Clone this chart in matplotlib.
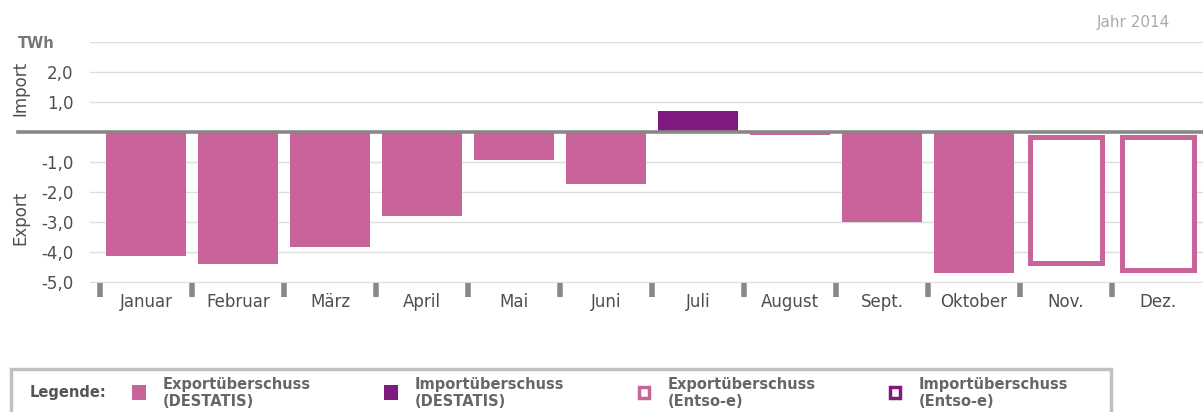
import numpy as np
import matplotlib.pyplot as plt
from matplotlib.patches import Rectangle

plt.rcParams['font.family'] = ['DejaVu Sans']

# Monthly net electricity trade 2014 (TWh), negative = export surplus
months = ["Januar", "Februar", "März", "April", "Mai", "Juni", "Juli",
          "August", "Sept.", "Oktober", "Nov.", "Dez."]
destatis = [-4.13, -4.40, -3.83, -2.80, -0.93, -1.73, 0.69,
            -0.10, -3.00, -4.70]
entsoe_months = [10, 11]
entsoe = [-4.35, -4.60]
yticks = [2, 1, -1, -2, -3, -4, -5]
ytick_labels = ["2,0", "1,0", "-1,0", "-2,0", "-3,0", "-4,0", "-5,0"]

pink = "#c8649a"
purple = "#801a7e"
grey = "#888888"
txt = "#4a4f55"

W, H = 1203, 412
fig = plt.figure(figsize=(W / 100, H / 100), dpi=100)
ax = fig.add_axes([90 / W, 1 - 283 / H, (W - 90) / W, (283 - 42) / H])

x = np.arange(len(destatis))
colors = [purple if v > 0 else pink for v in destatis]
ax.bar(x, destatis, width=0.87, color=colors, zorder=2)
# hollow Entso-e bars start just below the zero line
gap = 0.15
ax.bar(entsoe_months, [v + gap for v in entsoe], bottom=-gap, width=0.78,
       facecolor="white", edgecolor=pink, linewidth=3.6, zorder=2)

ax.set_xlim(-0.609, 11.49)
ax.set_ylim(-5.03, 3.0)

# grid lines
for g in [3, 2, 1, -1, -2, -3, -4, -5]:
    ax.axhline(g, color="#dddddd", lw=1, zorder=1)
# zero line, extends left beyond the axes
ax.plot([-72 / 1113, 1], [0, 0], transform=ax.get_yaxis_transform(),
        color=grey, lw=2.6, clip_on=False, zorder=3)

for s in ax.spines.values():
    s.set_visible(False)
ax.set_xticks([])
ax.set_yticks(yticks)
ax.set_yticklabels(ytick_labels, fontsize=12, color=txt)
ax.tick_params(axis="y", length=0, pad=12)

# category separators below the plot
trans = ax.get_xaxis_transform()
for b in np.arange(-0.5, 11, 1):
    ax.plot([b, b], [0, -14 / 241], transform=trans, color=grey,
            lw=4, solid_capstyle="butt", clip_on=False)
for i, m in enumerate(months):
    ax.text(i, -19 / 241, m, transform=trans, ha="center", va="center",
            fontsize=12, color=txt)

fig.text(18 / W, 1 - 43 / H, "TWh", fontsize=10.5, fontweight="bold",
         color="#777777", va="center", ha="left")
fig.text(20 / W, 1 - 88 / H, "Import", fontsize=12, rotation=90,
         color=txt, va="center", ha="center")
fig.text(20 / W, 1 - 218 / H, "Export", fontsize=12, rotation=90,
         color=txt, va="center", ha="center")
fig.text(1170 / W, 1 - 22 / H, "Jahr 2014", fontsize=11, color="#aaaaaa",
         ha="right", va="center")

# legend box
fig.patches.append(Rectangle((11 / W, -0.05), 1100 / W, 0.05 + (H - 369) / H,
                             transform=fig.transFigure, fill=False,
                             edgecolor="#c0c0c0", lw=2.5))
fig.text(30 / W, 1 - 393 / H, "Legende:", fontsize=10.5, fontweight="bold",
         color="#555555", va="center")
leg_items = [("Exportüberschuss\n(DESTATIS)", pink, True),
             ("Importüberschuss\n(DESTATIS)", purple, True),
             ("Exportüberschuss\n(Entso-e)", pink, False),
             ("Importüberschuss\n(Entso-e)", purple, False)]
for k, (lab, c, filled) in enumerate(leg_items):
    x0 = [132, 384, 637, 888][k]
    if filled:
        r = Rectangle((x0 / W, 1 - 400 / H), 14 / W, 15 / H,
                      transform=fig.transFigure, facecolor=c, edgecolor="none")
    else:
        r = Rectangle((x0 / W + 2 / W, 1 - 398 / H), 10 / W, 11 / H,
                      transform=fig.transFigure, facecolor="white",
                      edgecolor=c, lw=2.5)
    fig.patches.append(r)
    fig.text((x0 + 31) / W, 1 - 393 / H, lab, fontsize=10.5,
             fontweight="bold", color="#666666", va="center",
             linespacing=1.25)

fig.savefig("out.png", dpi=100)
